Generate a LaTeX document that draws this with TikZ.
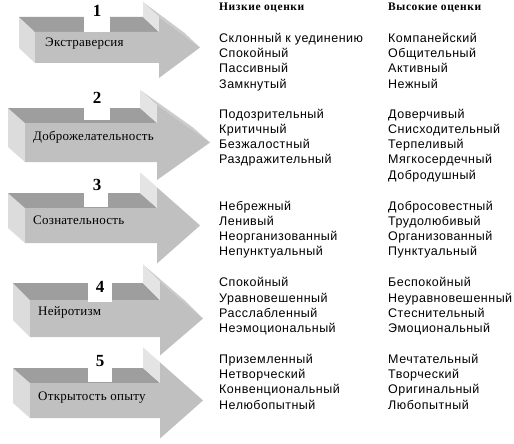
\documentclass[tikz,border=0pt]{standalone}
\usepackage{fontspec}
\setmainfont{Liberation Serif}
\setsansfont{Liberation Sans}
\definecolor{topface}{RGB}{158,158,158}
\definecolor{frontface}{RGB}{192,192,192}
\definecolor{sideface}{RGB}{220,220,220}
\definecolor{stripface}{RGB}{228,228,228}
\definecolor{headtop}{RGB}{204,204,204}
\newcommand\arrowthreed[8]{%
  \pgfmathsetmacro\AXl{#1}\pgfmathsetmacro\ADx{#2}\pgfmathsetmacro\ADy{#3}%
  \pgfmathsetmacro\AFt{#4}\pgfmathsetmacro\AFb{#5}\pgfmathsetmacro\AHx{#6}%
  \pgfmathsetmacro\ATx{#7}\pgfmathsetmacro\AHh{#8}%
  \pgfmathsetmacro\AXf{\AXl+\ADx}\pgfmathsetmacro\ACy{(\AFt+\AFb)/2}%
  \pgfmathsetmacro\AHt{\ACy-\AHh}\pgfmathsetmacro\AHb{\ACy+\AHh}%
  \pgfmathsetmacro\ABx{\AHx-\ADx}\pgfmathsetmacro\ABt{\AFt-\ADy}%
  \pgfmathsetmacro\ABh{\AHt-\ADy}\pgfmathsetmacro\ABtx{\ATx-\ADx}\pgfmathsetmacro\ABcy{\ACy-\ADy}%
  \pgfmathsetmacro\ABb{\AFb-\ADy}%
  \fill[headtop] (\ABx,\ABh) -- (\ABtx,\ABcy) -- (\ATx,\ACy) -- (\AHx,\AHt) -- cycle;
  \fill[sideface] (\AXl,\ABt) -- (\AXf,\AFt) -- (\AXf,\AFb) -- (\AXl,\ABb) -- cycle;
  \fill[topface] (\AXl,\ABt) -- (\ABx,\ABt) -- (\AHx,\AFt) -- (\AXf,\AFt) -- cycle;
  \fill[stripface] (\ABx,\ABh) -- (\AHx,\AHt) -- (\AHx,\AFt) -- (\ABx,\ABt) -- cycle;
  \fill[frontface] (\AXf,\AFt) -- (\AHx,\AFt) -- (\AHx,\AHt) -- (\ATx,\ACy) -- (\AHx,\AHb) -- (\AHx,\AFb) -- (\AXf,\AFb) -- cycle;
}
\tikzset{
  numbox/.style={fill=white,inner sep=0pt},
  numtxt/.style={font=\fontsize{17}{17}\selectfont\bfseries,inner sep=0pt},
  arrtxt/.style={font=\fontsize{13}{14}\selectfont\addfontfeature{LetterSpace=2},anchor=west,inner sep=0pt},
  hdr/.style={font=\fontsize{11.5}{13}\selectfont\bfseries\addfontfeature{LetterSpace=5},anchor=base west,inner sep=0pt},
  item/.style={font=\sffamily\fontsize{12.5}{14}\selectfont\addfontfeature{LetterSpace=4},anchor=base west,inner sep=0pt}
}
\begin{document}
\begin{tikzpicture}[x=1pt,y=-1pt]
\useasboundingbox[fill=white] (0,0) rectangle (514,444);
% arrows
\arrowthreed{19}{16}{15}{32}{63}{159}{200}{30.5}
\arrowthreed{8}{17}{15}{123}{162}{157}{210}{37.5}
\arrowthreed{8}{17}{15}{208}{243}{157}{200}{38}
\arrowthreed{13}{17}{17}{300}{337}{160}{203}{37}
\arrowthreed{13}{17}{15}{383}{418}{160}{203}{38}
% number boxes
\fill[white] (84,0) rectangle (110,32);
\fill[white] (84,88) rectangle (110,120);
\fill[white] (84,175) rectangle (108,207);
\fill[white] (88,270) rectangle (112,302);
\fill[white] (88,350) rectangle (112,382);
\node[numtxt] (n1) at (97,11) {1};
\node[numtxt] (n2) at (97,98) {2};
\node[numtxt] (n3) at (97,185) {3};
\node[numtxt] (n4) at (100,287) {4};
\node[numtxt] (n5) at (100,361) {5};
% arrow labels
\node[arrtxt] (a1) at (45,44) {Экстраверсия};
\node[arrtxt] (a2) at (33,137) {Доброжелательность};
\node[arrtxt] (a3) at (33,220) {Сознательность};
\node[arrtxt] (a4) at (38,312) {Нейротизм};
\node[arrtxt] (a5) at (38,398) {Открытость опыту};
% headers
\node[hdr] (h1) at (219,11) {Низкие оценки};
\node[hdr] (h2) at (388,11) {Высокие оценки};
% group 1
\node[item] (l11) at (219,42.5) {Склонный к уединению};
\node[item] (l12) at (219,57.8) {Спокойный};
\node[item] (l13) at (219,73) {Пассивный};
\node[item] (l14) at (219,88.5) {Замкнутый};
\node[item] (r11) at (388,42.5) {Компанейский};
\node[item] (r12) at (388,57.8) {Общительный};
\node[item] (r13) at (388,73) {Активный};
\node[item] (r14) at (388,88.5) {Нежный};
% group 2
\node[item] (l21) at (219,118) {Подозрительный};
\node[item] (l22) at (219,133.5) {Критичный};
\node[item] (l23) at (219,148.5) {Безжалостный};
\node[item] (l24) at (219,163.5) {Раздражительный};
\node[item] (r21) at (388,118) {Доверчивый};
\node[item] (r22) at (388,133.5) {Снисходительный};
\node[item] (r23) at (388,148.5) {Терпеливый};
\node[item] (r24) at (388,163.5) {Мягкосердечный};
\node[item] (r25) at (388,179.5) {Добродушный};
% group 3
\node[item] (l31) at (219,210.5) {Небрежный};
\node[item] (l32) at (219,225.5) {Ленивый};
\node[item] (l33) at (219,240.5) {Неорганизованный};
\node[item] (l34) at (219,255.5) {Непунктуальный};
\node[item] (r31) at (388,210.5) {Добросовестный};
\node[item] (r32) at (388,225.5) {Трудолюбивый};
\node[item] (r33) at (388,240.5) {Организованный};
\node[item] (r34) at (388,255.5) {Пунктуальный};
% group 4
\node[item] (l41) at (219,286.5) {Спокойный};
\node[item] (l42) at (219,302.5) {Уравновешенный};
\node[item] (l43) at (219,317.5) {Расслабленный};
\node[item] (l44) at (219,332.5) {Неэмоциональный};
\node[item] (r41) at (388,286.5) {Беспокойный};
\node[item] (r42) at (388,302.5) {Неуравновешенный};
\node[item] (r43) at (388,317.5) {Стеснительный};
\node[item] (r44) at (388,332.5) {Эмоциональный};
% group 5
\node[item] (l51) at (219,363.5) {Приземленный};
\node[item] (l52) at (219,378.5) {Нетворческий};
\node[item] (l53) at (219,393.5) {Конвенциональный};
\node[item] (l54) at (219,409.5) {Нелюбопытный};
\node[item] (r51) at (388,363.5) {Мечтательный};
\node[item] (r52) at (388,378.5) {Творческий};
\node[item] (r53) at (388,393.5) {Оригинальный};
\node[item] (r54) at (388,409.5) {Любопытный};
\end{tikzpicture}
\end{document}
